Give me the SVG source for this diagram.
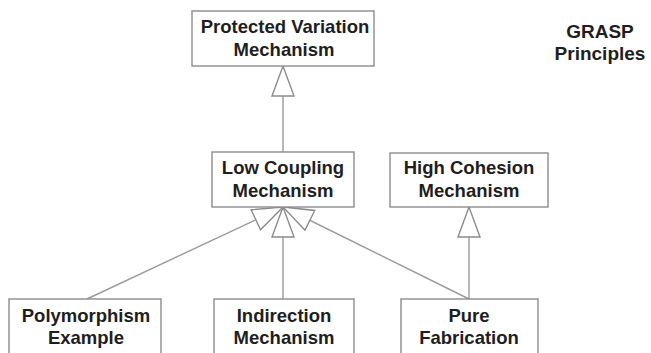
<svg xmlns="http://www.w3.org/2000/svg" width="651" height="353" viewBox="0 0 651 353">
  <style>
    .box { fill: #ffffff; stroke: #8c8c8c; stroke-width: 1.4; }
    .lbl { font-family: "Liberation Sans", Arial, sans-serif; font-weight: bold; font-size: 18.5px; fill: #1e1e1e; text-anchor: middle; }
    .title { font-family: "Liberation Sans", Arial, sans-serif; font-weight: bold; font-size: 19px; fill: #1e1e1e; text-anchor: middle; }
    .edge { fill: none; stroke: #9a9a9a; stroke-width: 1.4; marker-end: url(#gen); }
  </style>
  <defs>
    <!-- hollow generalization arrowhead -->
    <marker id="gen" markerUnits="userSpaceOnUse" markerWidth="34" markerHeight="26" refX="31" refY="12" orient="auto">
      <path d="M1,1 L31,12 L1,23 Z" fill="#ffffff" stroke="#8c8c8c" stroke-width="1.4"/>
    </marker>
  </defs>

  <rect width="651" height="353" fill="#ffffff"/>

  <g id="connectors">
    <line class="edge" x1="283" y1="152" x2="283" y2="66"/>
    <line class="edge" x1="87" y1="299" x2="283" y2="207"/>
    <line class="edge" x1="283" y1="299" x2="283" y2="207"/>
    <line class="edge" x1="469" y1="299" x2="283" y2="207"/>
    <line class="edge" x1="469" y1="299" x2="469" y2="207"/>
  </g>

  <g id="protected-variation">
    <rect class="box" x="192" y="11" width="182" height="55"/>
    <text class="lbl" x="285" y="33">Protected Variation</text>
    <text class="lbl" x="284" y="56">Mechanism</text>
  </g>

  <g id="low-coupling">
    <rect class="box" x="212" y="152" width="142" height="55"/>
    <text class="lbl" x="283" y="174">Low Coupling</text>
    <text class="lbl" x="283" y="197">Mechanism</text>
  </g>

  <g id="high-cohesion">
    <rect class="box" x="390" y="153" width="158" height="54"/>
    <text class="lbl" x="469" y="174">High Cohesion</text>
    <text class="lbl" x="469" y="197">Mechanism</text>
  </g>

  <g id="polymorphism">
    <rect class="box" x="9" y="299" width="152" height="60"/>
    <text class="lbl" x="86" y="322">Polymorphism</text>
    <text class="lbl" x="86" y="344">Example</text>
  </g>

  <g id="indirection">
    <rect class="box" x="214" y="299" width="140" height="60"/>
    <text class="lbl" x="284" y="322">Indirection</text>
    <text class="lbl" x="284" y="344">Mechanism</text>
  </g>

  <g id="pure-fabrication">
    <rect class="box" x="401" y="299" width="137" height="60"/>
    <text class="lbl" x="469" y="322">Pure</text>
    <text class="lbl" x="469" y="344">Fabrication</text>
  </g>

  <g id="title">
    <text class="title" x="600" y="38">GRASP</text>
    <text class="title" x="600" y="60">Principles</text>
  </g>
</svg>
